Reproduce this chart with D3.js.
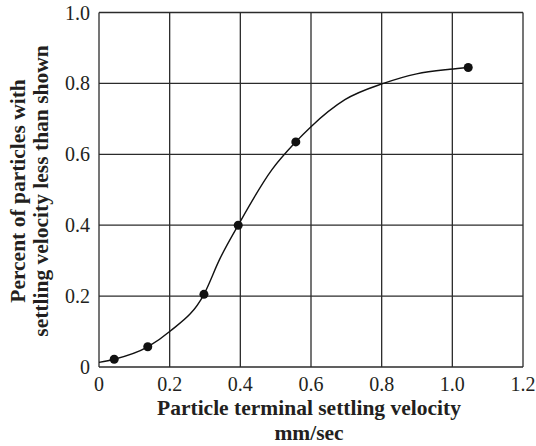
<!DOCTYPE html>
<html lang="en">
<head>
<meta charset="UTF-8">
<title>Settling velocity</title>
<script src="https://d3js.org/d3.v7.min.js"></script>
<style>
  body { margin: 0; background: #fff; }
  svg { display: block; }
  text { font-family: "Liberation Serif", "Times New Roman", serif; fill: #231f20; }
</style>
</head>
<body>
<svg id="chart" width="536" height="446"></svg>
<script>
// measured points
const velocity = [0.043, 0.138, 0.297, 0.394, 0.557, 1.045];
const fraction = [0.022, 0.057, 0.205, 0.40, 0.635, 0.845];

// hand-drawn fit curve
const curveX = [0, 0.043, 0.138, 0.2, 0.297, 0.342, 0.394, 0.489, 0.557, 0.6, 0.696, 0.805, 0.899, 0.993, 1.045];
const curveY = [0.013, 0.022, 0.057, 0.10, 0.205, 0.305, 0.40, 0.556, 0.635, 0.678, 0.754, 0.80, 0.827, 0.840, 0.845];

const xTicks = [0, 0.2, 0.4, 0.6, 0.8, 1.0, 1.2];
const yTicks = [0, 0.2, 0.4, 0.6, 0.8, 1.0];

const svg = d3.select("#chart");
const plotL = 99, plotR = 523, plotT = 12.5, plotB = 367;

const x = d3.scaleLinear().domain([0, 1.2]).range([plotL, plotR]);
const y = d3.scaleLinear().domain([0, 1.0]).range([plotB, plotT]);

// grid
svg.append("g").selectAll("line").data(xTicks).join("line")
  .attr("x1", d => x(d)).attr("x2", d => x(d))
  .attr("y1", plotT).attr("y2", plotB)
  .attr("stroke", "#2b2b2b").attr("stroke-width", 1.3);
svg.append("g").selectAll("line").data(yTicks).join("line")
  .attr("x1", plotL).attr("x2", plotR)
  .attr("y1", d => y(d)).attr("y2", d => y(d))
  .attr("stroke", "#2b2b2b").attr("stroke-width", 1.3);

// tick labels
const fmt = d => d === 0 ? "0" : d3.format(".1f")(d);
svg.append("g").selectAll("text").data(xTicks).join("text")
  .attr("x", d => x(d)).attr("y", 391)
  .attr("text-anchor", "middle").attr("font-size", 20)
  .text(fmt);
svg.append("g").selectAll("text").data(yTicks).join("text")
  .attr("x", plotL - 9).attr("y", d => y(d) + 7)
  .attr("text-anchor", "end").attr("font-size", 20)
  .text(fmt);

// curve
const pts = curveX.map((d, i) => [d, curveY[i]]);
svg.append("path")
  .datum(pts)
  .attr("fill", "none").attr("stroke", "#111").attr("stroke-width", 1.4)
  .attr("d", d3.line().x(d => x(d[0])).y(d => y(d[1])).curve(d3.curveMonotoneX));

// dots
svg.append("g").selectAll("circle").data(velocity).join("circle")
  .attr("cx", d => x(d)).attr("cy", (d, i) => y(fraction[i]))
  .attr("r", 4.5).attr("fill", "#111");

// axis titles
svg.append("text").attr("x", 309).attr("y", 415)
  .attr("text-anchor", "middle").attr("font-size", 21.5).attr("font-weight", "bold")
  .text("Particle terminal settling velocity");
svg.append("text").attr("x", 309).attr("y", 440)
  .attr("text-anchor", "middle").attr("font-size", 21.5).attr("font-weight", "bold")
  .text("mm/sec");

const yl = svg.append("text").attr("transform", "translate(24.5,191) rotate(-90)")
  .attr("text-anchor", "middle").attr("font-size", 21.5).attr("font-weight", "bold");
yl.append("tspan").attr("x", 0).attr("y", 0).text("Percent of particles with");
yl.append("tspan").attr("x", 0).attr("y", 23).text("settling velocity less than shown");
</script>
</body>
</html>
